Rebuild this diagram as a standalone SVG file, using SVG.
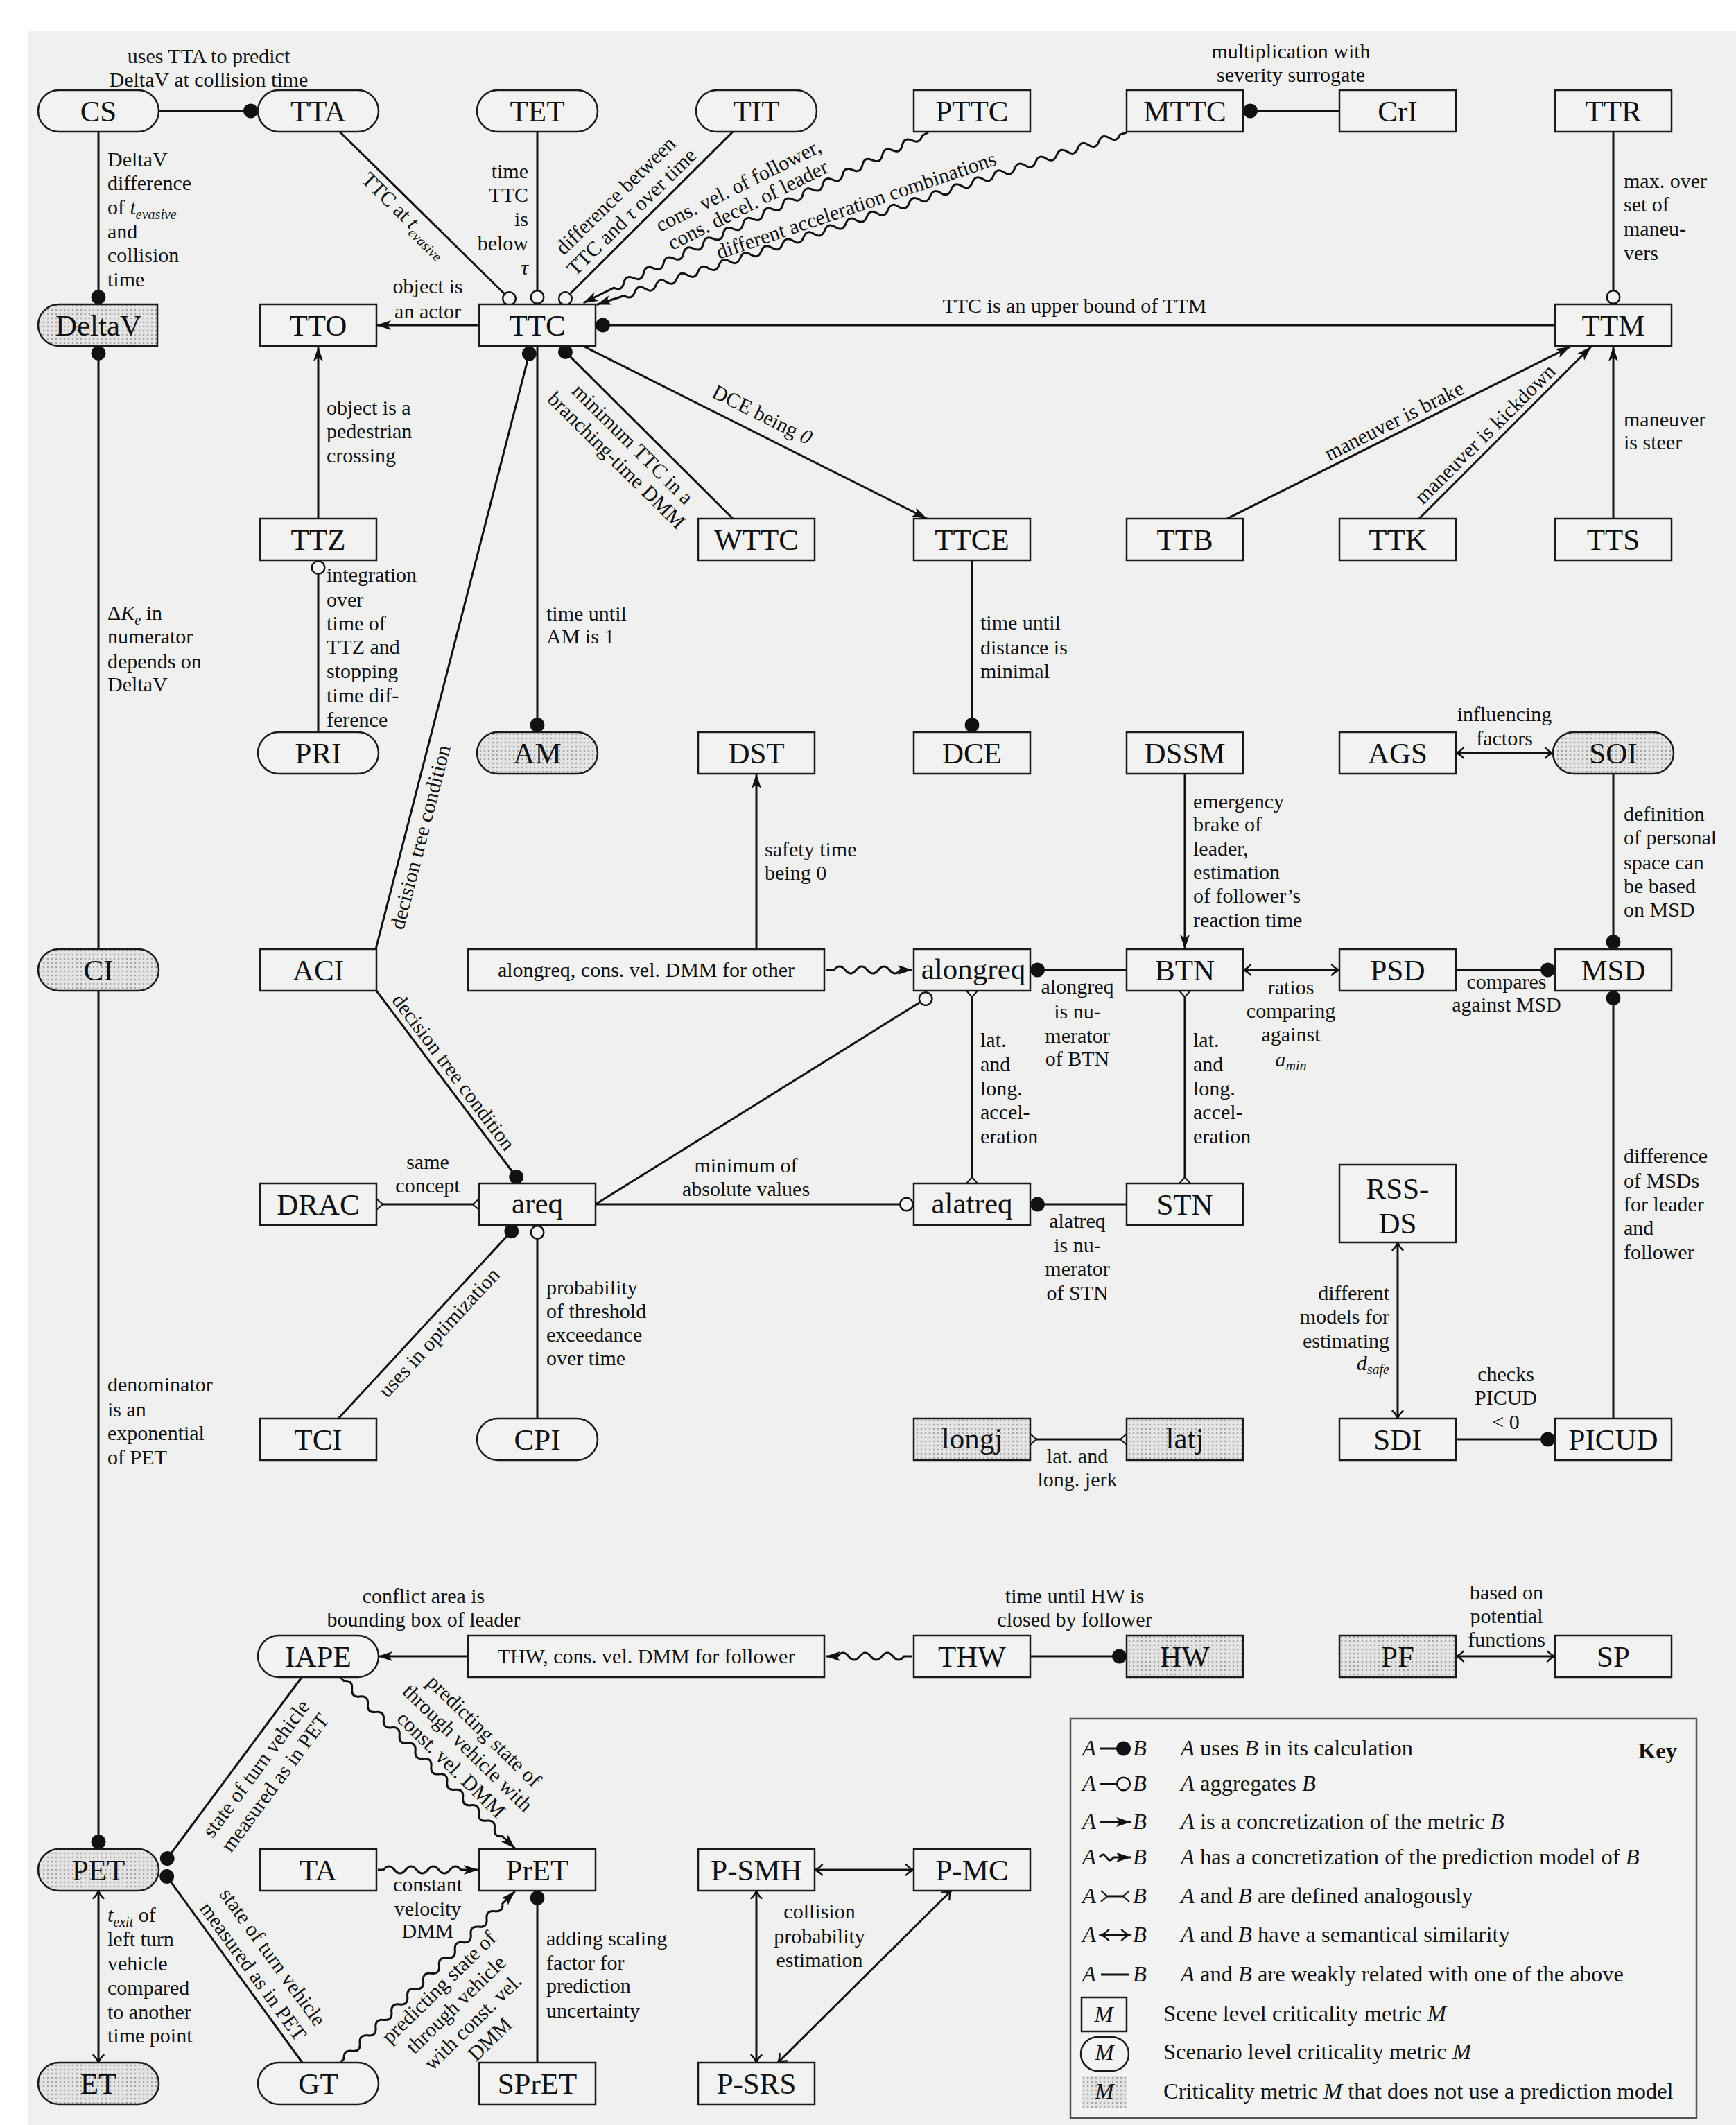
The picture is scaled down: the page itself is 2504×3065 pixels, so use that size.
<svg xmlns="http://www.w3.org/2000/svg" width="2504" height="3065" viewBox="0 0 2504 3065">
<style>
.n{fill:#f2f2f2;stroke:#1a1a1a;stroke-width:2.5}
.d{fill:url(#dots);stroke:#1a1a1a;stroke-width:2.5}
.nl{font-family:"Liberation Serif",serif;font-size:43px;text-anchor:middle;fill:#111}
.el{font-family:"Liberation Serif",serif;font-size:30px;fill:#111}
.c{text-anchor:middle}
.s{text-anchor:end}
.i{font-style:italic}
.e{fill:none;stroke:#111;stroke-width:3}
.k{font-family:"Liberation Serif",serif;font-size:32.5px;fill:#111}
</style>
<defs>
<pattern id="dots" width="6" height="6" patternUnits="userSpaceOnUse"><rect width="6" height="6" fill="#e4e4e4"/><circle cx="3" cy="3" r="1.3" fill="#a5a5a5"/></pattern>
<marker id="dot" markerUnits="userSpaceOnUse" markerWidth="24" markerHeight="24" viewBox="0 0 24 24" refX="22" refY="12" orient="auto-start-reverse" overflow="visible"><circle cx="11.5" cy="12" r="10.5" fill="#111"/></marker>
<marker id="odot" markerUnits="userSpaceOnUse" markerWidth="24" markerHeight="24" viewBox="0 0 24 24" refX="22" refY="12" orient="auto-start-reverse" overflow="visible"><circle cx="11.5" cy="12" r="9.3" fill="#f2f2f2" stroke="#111" stroke-width="2.5"/></marker>
<marker id="arr" markerUnits="userSpaceOnUse" markerWidth="22" markerHeight="16" viewBox="0 0 22 16" refX="21" refY="8" orient="auto-start-reverse" overflow="visible"><path d="M0,1 L21,8 L0,15 L5,8 Z" fill="#111"/></marker>
<marker id="oarr" markerUnits="userSpaceOnUse" markerWidth="16" markerHeight="18" viewBox="0 0 16 18" refX="14" refY="9" orient="auto-start-reverse" overflow="visible"><path d="M3,1.5 Q8,7 14,9 Q8,11 3,16.5" fill="none" stroke="#111" stroke-width="2.5" stroke-linecap="round"/></marker>
<marker id="fork" markerUnits="userSpaceOnUse" markerWidth="12" markerHeight="18" viewBox="0 0 12 18" refX="10" refY="9" orient="auto-start-reverse" overflow="visible"><path d="M10,1 L1,9 L10,17 Z" fill="#f0f0f0" stroke="none"/><path d="M10,1 L1,9 L10,17" fill="none" stroke="#111" stroke-width="2"/></marker>
</defs>
<rect x="0" y="0" width="2504" height="3065" fill="#ffffff"/>
<rect x="40" y="45" width="2464" height="3020" fill="#f0f0f0"/>

<g id="connectors" class="e">
<path d="M229,160 L372,160" marker-end="url(#dot)"/>
<path d="M142,190 L142,439" marker-end="url(#dot)"/>
<path d="M490,190 L742,438" marker-end="url(#odot)"/>
<path d="M775,190 L775,439" marker-end="url(#odot)"/>
<path d="M1057,190 L808,438" marker-end="url(#odot)"/>
<path transform="translate(1339,191) rotate(153.7)" d="M0,0 h10 q8,-10 16,0 t16,0 t16,0 t16,0 t16,0 t16,0 t16,0 t16,0 t16,0 t16,0 t16,0 t16,0 t16,0 t16,0 t16,0 t16,0 t16,0 t16,0 t16,0 t16,0 t16,0 t16,0 t16,0 t16,0 t16,0 t16,0 t16,0 t16,0 t16,0 t16,0 t16,0 H555" marker-end="url(#arr)"/>
<path transform="translate(1625,191) rotate(162)" d="M0,0 h10 q8,-10 16,0 t16,0 t16,0 t16,0 t16,0 t16,0 t16,0 t16,0 t16,0 t16,0 t16,0 t16,0 t16,0 t16,0 t16,0 t16,0 t16,0 t16,0 t16,0 t16,0 t16,0 t16,0 t16,0 t16,0 t16,0 t16,0 t16,0 t16,0 t16,0 t16,0 t16,0 t16,0 t16,0 t16,0 t16,0 t16,0 t16,0 t16,0 t16,0 t16,0 t16,0 t16,0 t16,0 t16,0 t16,0 t16,0 t16,0 H804" marker-end="url(#arr)"/>
<path d="M691,469 L543,469" marker-end="url(#arr)"/>
<path d="M2243,469 L859,469" marker-end="url(#dot)"/>
<path d="M2327,190 L2327,439" marker-end="url(#odot)"/>
<path d="M1932,160 L1793,160" marker-end="url(#dot)"/>
<path d="M1057,748 L808,500" marker-end="url(#dot)"/>
<path d="M841,499 L1337,748" marker-end="url(#arr)"/>
<path d="M775,499 L775,1056" marker-end="url(#dot)"/>
<path d="M542,1369 L766,500" marker-end="url(#dot)"/>
<path d="M543,1429 L751,1706" marker-end="url(#dot)"/>
<path d="M543,1737 L691,1737" marker-start="url(#fork)" marker-end="url(#fork)"/>
<path d="M488,2046 L745,1768" marker-end="url(#dot)"/>
<path d="M775,2046 L775,1767" marker-end="url(#odot)"/>
<path d="M859,1737 L1318,1737" marker-end="url(#odot)"/>
<path d="M859,1737 L1344,1435" marker-end="url(#odot)"/>
<path d="M1402,1429 L1402,1707" marker-start="url(#fork)" marker-end="url(#fork)"/>
<path d="M1625,1399 L1486,1399" marker-end="url(#dot)"/>
<path d="M1625,1737 L1486,1737" marker-end="url(#dot)"/>
<path d="M1709,1429 L1709,1707" marker-start="url(#fork)" marker-end="url(#fork)"/>
<path d="M1709,1116 L1709,1369" marker-end="url(#arr)"/>
<path d="M1793,1399 L1932,1399" marker-start="url(#oarr)" marker-end="url(#oarr)"/>
<path d="M2100,1399 L2243,1399" marker-end="url(#dot)"/>
<path d="M2327,1116 L2327,1369" marker-end="url(#dot)"/>
<path d="M2100,1086 L2240,1086" marker-start="url(#oarr)" marker-end="url(#oarr)"/>
<path d="M2327,2046 L2327,1429" marker-end="url(#dot)"/>
<path d="M2100,2076 L2243,2076" marker-end="url(#dot)"/>
<path d="M2016,1792 L2016,2046" marker-start="url(#oarr)" marker-end="url(#oarr)"/>
<path d="M1770,748 L2265,500" marker-end="url(#arr)"/>
<path d="M2047,748 L2295,500" marker-end="url(#arr)"/>
<path d="M2327,748 L2327,500" marker-end="url(#arr)"/>
<path d="M459,748 L459,500" marker-end="url(#arr)"/>
<path d="M459,1056 L459,808" marker-end="url(#odot)"/>
<path d="M1402,808 L1402,1056" marker-end="url(#dot)"/>
<path d="M1091,1369 L1091,1116" marker-end="url(#arr)"/>
<path transform="translate(1191,1399)" d="M0,0 h12 q8,-10 16,0 t16,0 t16,0 t16,0 t16,0 t16,0 H125" marker-end="url(#arr)"/>
<path d="M142,1369 L142,499" marker-end="url(#dot)"/>
<path d="M142,1429 L142,2667" marker-end="url(#dot)"/>
<path d="M142,2727 L142,2975" marker-start="url(#oarr)" marker-end="url(#oarr)"/>
<path d="M436,2418 L235,2689" marker-end="url(#dot)"/>
<path d="M436,2975 L234.5,2698" marker-end="url(#dot)"/>
<path transform="translate(490.5,2419) rotate(44.4)" d="M0,0 h8 q8,-10 16,0 t16,0 t16,0 t16,0 t16,0 t16,0 t16,0 t16,0 t16,0 t16,0 t16,0 t16,0 t16,0 t16,0 t16,0 t16,0 t16,0 t16,0 t16,0 t16,0 H353" marker-end="url(#arr)"/>
<path transform="translate(545,2697)" d="M0,0 h8 q8,-10 16,0 t16,0 t16,0 t16,0 t16,0 t16,0 t16,0 H145" marker-end="url(#arr)"/>
<path transform="translate(490.5,2975) rotate(-44.4)" d="M0,0 h8 q8,-10 16,0 t16,0 t16,0 t16,0 t16,0 t16,0 t16,0 t16,0 t16,0 t16,0 t16,0 t16,0 t16,0 t16,0 t16,0 t16,0 t16,0 t16,0 t16,0 t16,0 H353" marker-end="url(#arr)"/>
<path d="M775,2975 L775,2727" marker-end="url(#dot)"/>
<path transform="translate(1316,2389) rotate(180)" d="M0,0 h12 q8,-10 16,0 t16,0 t16,0 t16,0 t16,0 t16,0 H125" marker-end="url(#arr)"/>
<path d="M675,2389 L545,2389" marker-end="url(#arr)"/>
<path d="M1486,2389 L1625,2389" marker-end="url(#dot)"/>
<path d="M2100,2389 L2243,2389" marker-start="url(#oarr)" marker-end="url(#oarr)"/>
<path d="M1175,2697 L1318,2697" marker-start="url(#oarr)" marker-end="url(#oarr)"/>
<path d="M1091,2727 L1091,2975" marker-start="url(#oarr)" marker-end="url(#oarr)"/>
<path d="M1372,2727 L1122,2975" marker-start="url(#oarr)" marker-end="url(#oarr)"/>
<path d="M1486,2076 L1625,2076" marker-start="url(#fork)" marker-end="url(#fork)"/>
</g>

<g id="nodes">
<g id="n-CS"><rect class="n" x="55" y="130" width="174" height="60" rx="30"/><text class="nl" x="142" y="175">CS</text></g>
<g id="n-TTA"><rect class="n" x="372" y="130" width="174" height="60" rx="30"/><text class="nl" x="459" y="175">TTA</text></g>
<g id="n-TET"><rect class="n" x="688" y="130" width="174" height="60" rx="30"/><text class="nl" x="775" y="175">TET</text></g>
<g id="n-TIT"><rect class="n" x="1004" y="130" width="174" height="60" rx="30"/><text class="nl" x="1091" y="175">TIT</text></g>
<g id="n-PTTC"><rect class="n" x="1318" y="130" width="168" height="60"/><text class="nl" x="1402" y="175">PTTC</text></g>
<g id="n-MTTC"><rect class="n" x="1625" y="130" width="168" height="60"/><text class="nl" x="1709" y="175">MTTC</text></g>
<g id="n-CrI"><rect class="n" x="1932" y="130" width="168" height="60"/><text class="nl" x="2016" y="175">CrI</text></g>
<g id="n-TTR"><rect class="n" x="2243" y="130" width="168" height="60"/><text class="nl" x="2327" y="175">TTR</text></g>

<g id="n-DeltaV"><path class="d" d="M85,439 H227 V499 H85 A30,30 0 0 1 85,439 Z"/><text class="nl" x="142" y="484">DeltaV</text></g>
<g id="n-TTO"><rect class="n" x="375" y="439" width="168" height="60"/><text class="nl" x="459" y="484">TTO</text></g>
<g id="n-TTC"><rect class="n" x="691" y="439" width="168" height="60"/><text class="nl" x="775" y="484">TTC</text></g>
<g id="n-TTM"><rect class="n" x="2243" y="439" width="168" height="60"/><text class="nl" x="2327" y="484">TTM</text></g>

<g id="n-TTZ"><rect class="n" x="375" y="748" width="168" height="60"/><text class="nl" x="459" y="793">TTZ</text></g>
<g id="n-WTTC"><rect class="n" x="1007" y="748" width="168" height="60"/><text class="nl" x="1091" y="793">WTTC</text></g>
<g id="n-TTCE"><rect class="n" x="1318" y="748" width="168" height="60"/><text class="nl" x="1402" y="793">TTCE</text></g>
<g id="n-TTB"><rect class="n" x="1625" y="748" width="168" height="60"/><text class="nl" x="1709" y="793">TTB</text></g>
<g id="n-TTK"><rect class="n" x="1932" y="748" width="168" height="60"/><text class="nl" x="2016" y="793">TTK</text></g>
<g id="n-TTS"><rect class="n" x="2243" y="748" width="168" height="60"/><text class="nl" x="2327" y="793">TTS</text></g>

<g id="n-PRI"><rect class="n" x="372" y="1056" width="174" height="60" rx="30"/><text class="nl" x="459" y="1101">PRI</text></g>
<g id="n-AM"><rect class="d" x="688" y="1056" width="174" height="60" rx="30"/><text class="nl" x="775" y="1101">AM</text></g>
<g id="n-DST"><rect class="n" x="1007" y="1056" width="168" height="60"/><text class="nl" x="1091" y="1101">DST</text></g>
<g id="n-DCE"><rect class="n" x="1318" y="1056" width="168" height="60"/><text class="nl" x="1402" y="1101">DCE</text></g>
<g id="n-DSSM"><rect class="n" x="1625" y="1056" width="168" height="60"/><text class="nl" x="1709" y="1101">DSSM</text></g>
<g id="n-AGS"><rect class="n" x="1932" y="1056" width="168" height="60"/><text class="nl" x="2016" y="1101">AGS</text></g>
<g id="n-SOI"><rect class="d" x="2240" y="1056" width="174" height="60" rx="30"/><text class="nl" x="2327" y="1101">SOI</text></g>

<g id="n-CI"><rect class="d" x="55" y="1369" width="174" height="60" rx="30"/><text class="nl" x="142" y="1414">CI</text></g>
<g id="n-ACI"><rect class="n" x="375" y="1369" width="168" height="60"/><text class="nl" x="459" y="1414">ACI</text></g>
<g id="n-alongreqDMM"><rect class="n" x="675" y="1369" width="514" height="60"/><text class="el c" x="932" y="1409">alongreq, cons. vel. DMM for other</text></g>
<g id="n-alongreq"><rect class="n" x="1318" y="1369" width="168" height="60"/><text class="nl" x="1404" y="1412">alongreq</text></g>
<g id="n-BTN"><rect class="n" x="1625" y="1369" width="168" height="60"/><text class="nl" x="1709" y="1414">BTN</text></g>
<g id="n-PSD"><rect class="n" x="1932" y="1369" width="168" height="60"/><text class="nl" x="2016" y="1414">PSD</text></g>
<g id="n-MSD"><rect class="n" x="2243" y="1369" width="168" height="60"/><text class="nl" x="2327" y="1414">MSD</text></g>

<g id="n-DRAC"><rect class="n" x="375" y="1707" width="168" height="60"/><text class="nl" x="459" y="1752">DRAC</text></g>
<g id="n-areq"><rect class="n" x="691" y="1707" width="168" height="60"/><text class="nl" x="775" y="1750">areq</text></g>
<g id="n-alatreq"><rect class="n" x="1318" y="1707" width="168" height="60"/><text class="nl" x="1402" y="1750">alatreq</text></g>
<g id="n-STN"><rect class="n" x="1625" y="1707" width="168" height="60"/><text class="nl" x="1709" y="1752">STN</text></g>
<g id="n-RSSDS"><rect class="n" x="1932" y="1680" width="168" height="112"/><text class="nl" x="2016" y="1729">RSS-</text><text class="nl" x="2016" y="1779">DS</text></g>

<g id="n-TCI"><rect class="n" x="375" y="2046" width="168" height="60"/><text class="nl" x="459" y="2091">TCI</text></g>
<g id="n-CPI"><rect class="n" x="688" y="2046" width="174" height="60" rx="30"/><text class="nl" x="775" y="2091">CPI</text></g>
<g id="n-longj"><rect class="d" x="1318" y="2046" width="168" height="60"/><text class="nl" x="1402" y="2089">longj</text></g>
<g id="n-latj"><rect class="d" x="1625" y="2046" width="168" height="60"/><text class="nl" x="1709" y="2089">latj</text></g>
<g id="n-SDI"><rect class="n" x="1932" y="2046" width="168" height="60"/><text class="nl" x="2016" y="2091">SDI</text></g>
<g id="n-PICUD"><rect class="n" x="2243" y="2046" width="168" height="60"/><text class="nl" x="2327" y="2091">PICUD</text></g>

<g id="n-IAPE"><rect class="n" x="372" y="2359" width="174" height="60" rx="30"/><text class="nl" x="459" y="2404">IAPE</text></g>
<g id="n-THWDMM"><rect class="n" x="675" y="2359" width="514" height="60"/><text class="el c" x="932" y="2399">THW, cons. vel. DMM for follower</text></g>
<g id="n-THW"><rect class="n" x="1318" y="2359" width="168" height="60"/><text class="nl" x="1402" y="2404">THW</text></g>
<g id="n-HW"><rect class="d" x="1625" y="2359" width="168" height="60"/><text class="nl" x="1709" y="2404">HW</text></g>
<g id="n-PF"><rect class="d" x="1932" y="2359" width="168" height="60"/><text class="nl" x="2016" y="2404">PF</text></g>
<g id="n-SP"><rect class="n" x="2243" y="2359" width="168" height="60"/><text class="nl" x="2327" y="2404">SP</text></g>

<g id="n-PET"><rect class="d" x="55" y="2667" width="174" height="60" rx="30"/><text class="nl" x="142" y="2712">PET</text></g>
<g id="n-TA"><rect class="n" x="375" y="2667" width="168" height="60"/><text class="nl" x="459" y="2712">TA</text></g>
<g id="n-PrET"><rect class="n" x="691" y="2667" width="168" height="60"/><text class="nl" x="775" y="2712">PrET</text></g>
<g id="n-PSMH"><rect class="n" x="1007" y="2667" width="168" height="60"/><text class="nl" x="1091" y="2712">P-SMH</text></g>
<g id="n-PMC"><rect class="n" x="1318" y="2667" width="168" height="60"/><text class="nl" x="1402" y="2712">P-MC</text></g>

<g id="n-ET"><rect class="d" x="55" y="2975" width="174" height="60" rx="30"/><text class="nl" x="142" y="3020">ET</text></g>
<g id="n-GT"><rect class="n" x="372" y="2975" width="174" height="60" rx="30"/><text class="nl" x="459" y="3020">GT</text></g>
<g id="n-SPrET"><rect class="n" x="691" y="2975" width="168" height="60"/><text class="nl" x="775" y="3020">SPrET</text></g>
<g id="n-PSRS"><rect class="n" x="1007" y="2975" width="168" height="60"/><text class="nl" x="1091" y="3020">P-SRS</text></g>
</g>

<g id="edge-labels" class="el">
<text class="c"><tspan x="301" y="91">uses TTA to predict</tspan><tspan x="301" y="125">DeltaV at collision time</tspan></text>
<text><tspan x="155" y="240">DeltaV</tspan><tspan x="155" y="274">difference</tspan><tspan x="155" y="309">of <tspan class="i">t</tspan><tspan class="i" font-size="20" dy="7">evasive</tspan></tspan><tspan x="155" y="344">and</tspan><tspan x="155" y="378">collision</tspan><tspan x="155" y="413">time</tspan></text>
<text class="c" transform="translate(598,295.5) rotate(44.4)"><tspan x="0" y="30">TTC at <tspan class="i">t</tspan><tspan class="i" font-size="20" dy="7">evasive</tspan></tspan></text>
<text class="s"><tspan x="762" y="257">time</tspan><tspan x="762" y="291">TTC</tspan><tspan x="762" y="326">is</tspan><tspan x="762" y="361">below</tspan><tspan x="762" y="396" class="i">τ</tspan></text>
<text class="c" transform="translate(925.7,320.5) rotate(-44.4)"><tspan x="0" y="-44">difference between</tspan><tspan x="0" y="-11">TTC and <tspan class="i">τ</tspan> over time</tspan></text>
<text class="c" transform="translate(1089,316) rotate(-26.6)"><tspan x="0" y="-44">cons. vel. of follower,</tspan><tspan x="0" y="-13">cons. decel. of leader</tspan></text>
<text class="c" transform="translate(1242,317) rotate(-18.8)"><tspan x="0" y="-12">different acceleration combinations</tspan></text>
<text class="c"><tspan x="617" y="423">object is</tspan><tspan x="617" y="459">an actor</tspan></text>
<text class="c" x="1550" y="451">TTC is an upper bound of TTM</text>
<text><tspan x="2342" y="271">max. over</tspan><tspan x="2342" y="305">set of</tspan><tspan x="2342" y="340">maneu-</tspan><tspan x="2342" y="375">vers</tspan></text>
<text class="c"><tspan x="1862" y="84">multiplication with</tspan><tspan x="1862" y="118">severity surrogate</tspan></text>
<text class="c" transform="translate(931,622) rotate(44.8)"><tspan x="0" y="36">minimum TTC in a</tspan><tspan x="0" y="69">branching-time DMM</tspan></text>
<text class="c" transform="translate(1087,623) rotate(26.5)"><tspan x="0" y="-18">DCE being <tspan class="i">0</tspan></tspan></text>
<text><tspan x="788" y="895">time until</tspan><tspan x="788" y="928">AM is 1</tspan></text>
<text class="c" transform="translate(585,1202) rotate(-75.55)"><tspan x="0" y="32">decision tree condition</tspan></text>
<text class="c" transform="translate(640,1557) rotate(53.1)"><tspan x="0" y="-8">decision tree condition</tspan></text>
<text class="c"><tspan x="617" y="1686">same</tspan><tspan x="617" y="1720">concept</tspan></text>
<text class="c" transform="translate(617,1907) rotate(-47.25)"><tspan x="0" y="32">uses in optimization</tspan></text>
<text><tspan x="788" y="1867">probability</tspan><tspan x="788" y="1901">of threshold</tspan><tspan x="788" y="1935">exceedance</tspan><tspan x="788" y="1969">over time</tspan></text>
<text class="c"><tspan x="1076" y="1691">minimum of</tspan><tspan x="1076" y="1725">absolute values</tspan></text>
<text><tspan x="1414" y="1510">lat.</tspan><tspan x="1414" y="1545">and</tspan><tspan x="1414" y="1580">long.</tspan><tspan x="1414" y="1614">accel-</tspan><tspan x="1414" y="1649">eration</tspan></text>
<text class="c"><tspan x="1554" y="1433">alongreq</tspan><tspan x="1554" y="1469">is nu-</tspan><tspan x="1554" y="1504">merator</tspan><tspan x="1554" y="1537">of BTN</tspan></text>
<text class="c"><tspan x="1554" y="1771">alatreq</tspan><tspan x="1554" y="1806">is nu-</tspan><tspan x="1554" y="1840">merator</tspan><tspan x="1554" y="1875">of STN</tspan></text>
<text><tspan x="1721" y="1510">lat.</tspan><tspan x="1721" y="1545">and</tspan><tspan x="1721" y="1580">long.</tspan><tspan x="1721" y="1614">accel-</tspan><tspan x="1721" y="1649">eration</tspan></text>
<text><tspan x="1721" y="1166">emergency</tspan><tspan x="1721" y="1199">brake of</tspan><tspan x="1721" y="1234">leader,</tspan><tspan x="1721" y="1268">estimation</tspan><tspan x="1721" y="1302">of follower’s</tspan><tspan x="1721" y="1337">reaction time</tspan></text>
<text class="c"><tspan x="1862" y="1434">ratios</tspan><tspan x="1862" y="1468">comparing</tspan><tspan x="1862" y="1502">against</tspan><tspan x="1862" y="1538"><tspan class="i">a</tspan><tspan class="i" font-size="20" dy="6">min</tspan></tspan></text>
<text class="c"><tspan x="2173" y="1426">compares</tspan><tspan x="2173" y="1459">against MSD</tspan></text>
<text><tspan x="2342" y="1184">definition</tspan><tspan x="2342" y="1218">of personal</tspan><tspan x="2342" y="1254">space can</tspan><tspan x="2342" y="1288">be based</tspan><tspan x="2342" y="1322">on MSD</tspan></text>
<text class="c"><tspan x="2170" y="1040">influencing</tspan><tspan x="2170" y="1075">factors</tspan></text>
<text><tspan x="2342" y="1677">difference</tspan><tspan x="2342" y="1713">of MSDs</tspan><tspan x="2342" y="1747">for leader</tspan><tspan x="2342" y="1781">and</tspan><tspan x="2342" y="1816">follower</tspan></text>
<text class="c"><tspan x="2172" y="1992">checks</tspan><tspan x="2172" y="2026">PICUD</tspan><tspan x="2172" y="2061">&lt;  0</tspan></text>
<text class="s"><tspan x="2004" y="1875">different</tspan><tspan x="2004" y="1909">models for</tspan><tspan x="2004" y="1944">estimating</tspan><tspan x="2004" y="1976"><tspan class="i">d</tspan><tspan class="i" font-size="20" dy="6">safe</tspan></tspan></text>
<text class="c" transform="translate(2019,623) rotate(-26.5)"><tspan x="0" y="-8">maneuver is brake</tspan></text>
<text class="c" transform="translate(2156,640) rotate(-44.7)"><tspan x="0" y="-10">maneuver is kickdown</tspan></text>
<text><tspan x="2342" y="615">maneuver</tspan><tspan x="2342" y="648">is steer</tspan></text>
<text><tspan x="471" y="598">object is a</tspan><tspan x="471" y="632">pedestrian</tspan><tspan x="471" y="667">crossing</tspan></text>
<text><tspan x="471" y="839">integration</tspan><tspan x="471" y="875">over</tspan><tspan x="471" y="909">time of</tspan><tspan x="471" y="943">TTZ and</tspan><tspan x="471" y="978">stopping</tspan><tspan x="471" y="1013">time dif-</tspan><tspan x="471" y="1048">ference</tspan></text>
<text><tspan x="1414" y="908">time until</tspan><tspan x="1414" y="944">distance is</tspan><tspan x="1414" y="978">minimal</tspan></text>
<text><tspan x="1103" y="1235">safety time</tspan><tspan x="1103" y="1269">being 0</tspan></text>
<text><tspan x="155" y="894">Δ<tspan class="i">K</tspan><tspan class="i" font-size="20" dy="7">e</tspan><tspan dy="-7"> in</tspan></tspan><tspan x="155" y="928">numerator</tspan><tspan x="155" y="964">depends on</tspan><tspan x="155" y="997">DeltaV</tspan></text>
<text><tspan x="155" y="2007">denominator</tspan><tspan x="155" y="2043">is an</tspan><tspan x="155" y="2077">exponential</tspan><tspan x="155" y="2112">of PET</tspan></text>
<text><tspan x="155" y="2772"><tspan class="i">t</tspan><tspan class="i" font-size="20" dy="7">exit</tspan><tspan dy="-7"> of</tspan></tspan><tspan x="155" y="2807">left turn</tspan><tspan x="155" y="2842">vehicle</tspan><tspan x="155" y="2877">compared</tspan><tspan x="155" y="2912">to another</tspan><tspan x="155" y="2946">time point</tspan></text>
<text class="c" transform="translate(349,2536) rotate(-53.5)"><tspan x="0" y="35">state of turn vehicle</tspan><tspan x="0" y="69">measured as in PET</tspan></text>
<text class="c" transform="translate(349,2855) rotate(54)"><tspan x="0" y="-45">state of turn vehicle</tspan><tspan x="0" y="-10">measured as in PET</tspan></text>
<text class="c" transform="translate(635.5,2561) rotate(44.4)"><tspan x="0" y="-80">predicting state of</tspan><tspan x="0" y="-46">through vehicle with</tspan><tspan x="0" y="-12">const. vel. DMM</tspan></text>
<text class="c"><tspan x="617" y="2728">constant</tspan><tspan x="617" y="2763">velocity</tspan><tspan x="617" y="2795">DMM</tspan></text>
<text class="c" transform="translate(617.6,2850.4) rotate(-44.4)"><tspan x="0" y="32">predicting state of</tspan><tspan x="0" y="67">through vehicle</tspan><tspan x="0" y="102">with const. vel.</tspan><tspan x="0" y="137">DMM</tspan></text>
<text><tspan x="788" y="2806">adding scaling</tspan><tspan x="788" y="2841">factor for</tspan><tspan x="788" y="2874">prediction</tspan><tspan x="788" y="2910">uncertainty</tspan></text>
<text class="c"><tspan x="611" y="2312">conflict area is</tspan><tspan x="611" y="2346">bounding box of leader</tspan></text>
<text class="c"><tspan x="1550" y="2312">time until HW is</tspan><tspan x="1550" y="2346">closed by follower</tspan></text>
<text class="c"><tspan x="2173" y="2307">based on</tspan><tspan x="2173" y="2341">potential</tspan><tspan x="2173" y="2375">functions</tspan></text>
<text class="c"><tspan x="1182" y="2767">collision</tspan><tspan x="1182" y="2803">probability</tspan><tspan x="1182" y="2837">estimation</tspan></text>
<text class="c"><tspan x="1554" y="2110">lat. and</tspan><tspan x="1554" y="2144">long. jerk</tspan></text>
</g>

<g id="key">
<rect x="1544" y="2479" width="903" height="576" fill="#f3f3f3" stroke="#555" stroke-width="2.5"/>
<text class="k" x="2419" y="2536" text-anchor="end" font-weight="bold" font-size="42">Key</text>
<g class="e">
<path d="M1586,2522 L1631,2522" marker-end="url(#dot)"/>
<path d="M1586,2573 L1631,2573" marker-end="url(#odot)"/>
<path d="M1586,2628 L1631,2628" marker-end="url(#arr)"/>
<path transform="translate(1586,2679)" d="M0,0 q5,-8 10,0 t10,0 H45" marker-end="url(#arr)"/>
<path d="M1588,2735 L1629,2735" marker-start="url(#fork)" marker-end="url(#fork)"/>
<path d="M1588,2791 L1629,2791" marker-start="url(#oarr)" marker-end="url(#oarr)"/>
<path d="M1588,2848 L1629,2848"/>
</g>
<rect x="1560" y="2881" width="65" height="49" fill="none" stroke="#1a1a1a" stroke-width="2.5"/>
<rect x="1559" y="2938" width="69" height="49" rx="24.5" fill="none" stroke="#1a1a1a" stroke-width="2.5"/>
<rect x="1561" y="2995" width="64" height="45" fill="url(#dots)"/>
<g class="k">
<text class="i" x="1561" y="2532">A</text><text class="i" x="1634" y="2532">B</text>
<text class="i" x="1561" y="2583">A</text><text class="i" x="1634" y="2583">B</text>
<text class="i" x="1561" y="2638">A</text><text class="i" x="1634" y="2638">B</text>
<text class="i" x="1561" y="2689">A</text><text class="i" x="1634" y="2689">B</text>
<text class="i" x="1561" y="2745">A</text><text class="i" x="1634" y="2745">B</text>
<text class="i" x="1561" y="2801">A</text><text class="i" x="1634" y="2801">B</text>
<text class="i" x="1561" y="2858">A</text><text class="i" x="1634" y="2858">B</text>
<text class="i" x="1592" y="2916" text-anchor="middle">M</text>
<text class="i" x="1593" y="2971" text-anchor="middle">M</text>
<text class="i" x="1593" y="3027" text-anchor="middle">M</text>
<text x="1703" y="2532"><tspan class="i">A</tspan> uses <tspan class="i">B</tspan> in its calculation</text>
<text x="1703" y="2583"><tspan class="i">A</tspan> aggregates <tspan class="i">B</tspan></text>
<text x="1703" y="2638"><tspan class="i">A</tspan> is a concretization of the metric <tspan class="i">B</tspan></text>
<text x="1703" y="2689"><tspan class="i">A</tspan> has a concretization of the prediction model of <tspan class="i">B</tspan></text>
<text x="1703" y="2745"><tspan class="i">A</tspan> and <tspan class="i">B</tspan> are defined analogously</text>
<text x="1703" y="2801"><tspan class="i">A</tspan> and <tspan class="i">B</tspan> have a semantical similarity</text>
<text x="1703" y="2858"><tspan class="i">A</tspan> and <tspan class="i">B</tspan> are weakly related with one of the above</text>
<text x="1678" y="2915">Scene level criticality metric <tspan class="i">M</tspan></text>
<text x="1678" y="2970">Scenario level criticality metric <tspan class="i">M</tspan></text>
<text x="1678" y="3027">Criticality metric <tspan class="i">M</tspan> that does not use a prediction model</text>
</g>
</g>
</svg>
